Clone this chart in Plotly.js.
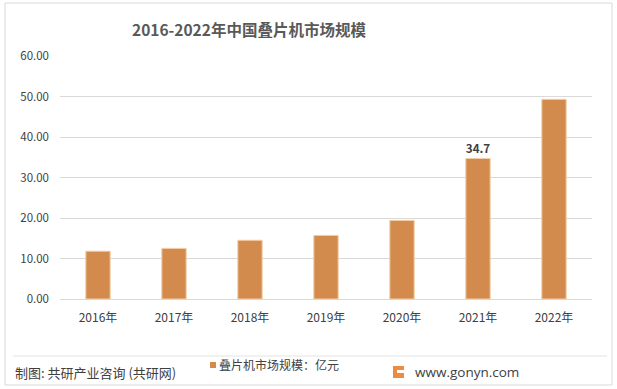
<!DOCTYPE html>
<html><head><meta charset="utf-8">
<script src="https://cdn.plot.ly/plotly-3.0.1.min.js"></script>
<style>html,body{margin:0;padding:0;background:#fff;}#c{width:617px;height:389px;}</style>
</head><body><div id="c"></div>
<script>
const categories = ['2016年','2017年','2018年','2019年','2020年','2021年','2022年'];
const values = [11.8, 12.5, 14.5, 15.7, 19.4, 34.7, 49.3];
const labels = ['', '', '', '', '', '34.7', ''];
const yTicks = [0,10,20,30,40,50,60];

const F = '"Noto Sans CJK SC", "Noto Sans", sans-serif';
// pixel helpers (plot: x 60..592, y 56..299)
const px = x => (x - 60) / 532;
const py = y => (299 - y) / 243;

const trace = {
  type: 'bar', x: categories, y: values,
  marker: {color: '#D38B4D', line: {color: '#F2CDA8', width: 1}},
  width: 0.32,
  text: labels, textposition: 'outside', cliponaxis: false,
  textfont: {family: F, size: 12, color: '#404040', weight: 600},
  hoverinfo: 'none'
};

const layout = {
  width: 617, height: 389,
  margin: {l: 60, r: 25, t: 56, b: 90},
  paper_bgcolor: '#fff', plot_bgcolor: '#fff',
  showlegend: false,
  xaxis: {
    tickfont: {family: F, size: 12, color: '#404040'},
    showline: false, ticks: '', showgrid: false, ticklabelstandoff: 10
  },
  yaxis: {
    range: [0, 60], tickvals: yTicks, tickformat: '.2f',
    tickfont: {family: F, size: 11.5, color: '#404040'},
    gridcolor: '#d9d9d9', gridwidth: 1, zeroline: true, zerolinecolor: '#d9d9d9',
    showline: false, ticks: '', ticklen: 0, automargin: false, ticklabelstandoff: 10
  },
  shapes: [
    {type: 'rect', xref: 'paper', yref: 'paper', x0: px(5), x1: px(612), y0: py(385), y1: py(3),
     line: {color: '#d9d9d9', width: 1}, fillcolor: 'rgba(0,0,0,0)'},
    {type: 'line', xref: 'paper', yref: 'paper', x0: px(13), x1: px(607), y0: py(356), y1: py(356),
     line: {color: '#e3e3e3', width: 1}},
    {type: 'rect', xref: 'paper', yref: 'paper', x0: px(210), x1: px(216), y0: py(368), y1: py(362),
     line: {width: 0}, fillcolor: '#D38B4D'},
    {type: 'rect', xref: 'paper', yref: 'paper', x0: px(393), x1: px(404), y0: py(378), y1: py(366),
     line: {width: 0}, fillcolor: '#F08A3C'},
    {type: 'rect', xref: 'paper', yref: 'paper', x0: px(397), x1: px(404), y0: py(373), y1: py(370),
     line: {width: 0}, fillcolor: '#ffffff'}
  ],
  annotations: [
    {text: '<b>2016-2022年中国叠片机市场规模</b>', xref: 'paper', yref: 'paper', x: px(249), y: py(29),
     xanchor: 'center', yanchor: 'middle', showarrow: false,
     font: {family: F, size: 15.5, color: '#595959'}},
    {text: '制图: 共研产业咨询 (共研网)', xref: 'paper', yref: 'paper', x: px(13), y: py(372),
     xanchor: 'left', yanchor: 'middle', showarrow: false,
     font: {family: F, size: 13, color: '#404040'}},
    {text: '叠片机市场规模：亿元', xref: 'paper', yref: 'paper', x: px(217), y: py(364),
     xanchor: 'left', yanchor: 'middle', showarrow: false,
     font: {family: F, size: 12, color: '#404040'}},
    {text: 'www.gonyn.com', xref: 'paper', yref: 'paper', x: px(413), y: py(372),
     xanchor: 'left', yanchor: 'middle', showarrow: false,
     font: {family: '"Open Sans", "DejaVu Sans", sans-serif', size: 13.5, color: '#404040'}}
  ]
};

Plotly.newPlot('c', [trace], layout, {displayModeBar: false, staticPlot: true});
</script></body></html>
